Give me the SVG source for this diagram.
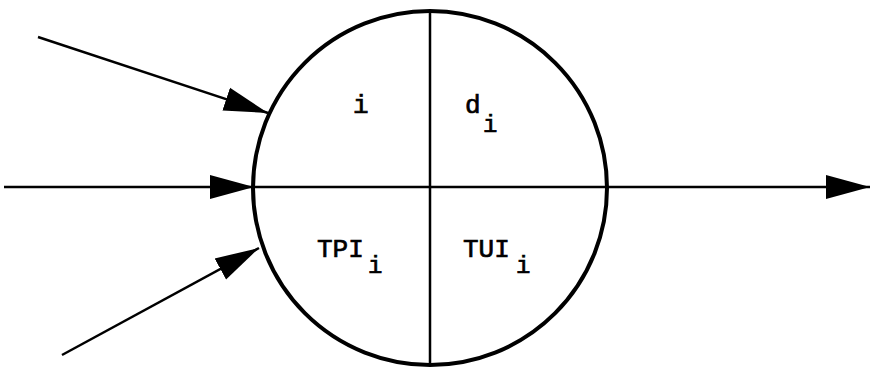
<svg xmlns="http://www.w3.org/2000/svg" width="870" height="373" viewBox="0 0 870 373">
<defs>
<style>
.ln{stroke:#000;stroke-width:2.5;fill:none}
.t{font-family:"Liberation Mono","Courier New",monospace;font-size:26px;fill:#000;stroke:#000;stroke-width:0.7}
.s{font-size:24px}
</style>
<marker id="ah" viewBox="0 0 44 26" refX="44" refY="13" markerWidth="44" markerHeight="26" markerUnits="userSpaceOnUse" orient="auto">
<path d="M0,1 L44,13 L0,25 Z" fill="#000"/>
</marker>
</defs>
<rect width="870" height="373" fill="#fff"/>
<g id="connectors">
<line class="ln" x1="38" y1="37" x2="268" y2="113" marker-end="url(#ah)"/>
<line class="ln" x1="4" y1="187" x2="254" y2="187" marker-end="url(#ah)"/>
<line class="ln" x1="62" y1="355" x2="259" y2="248" marker-end="url(#ah)"/>
<line class="ln" x1="607" y1="187" x2="870" y2="187" marker-end="url(#ah)"/>
</g>
<g id="node-circle">
<circle cx="430" cy="188" r="177" fill="none" stroke="#000" stroke-width="4"/>
<line class="ln" x1="430" y1="10" x2="430" y2="366"/>
<line class="ln" x1="253" y1="187" x2="607" y2="187"/>
<text class="t" x="353" y="113">i</text>
<text class="t" x="465" y="113">d</text>
<text class="t s" x="483" y="132">i</text>
<text class="t" x="317" y="257">TPI</text>
<text class="t s" x="368" y="273">i</text>
<text class="t" x="463" y="257">TUI</text>
<text class="t s" x="516" y="273">i</text>
</g>
</svg>
